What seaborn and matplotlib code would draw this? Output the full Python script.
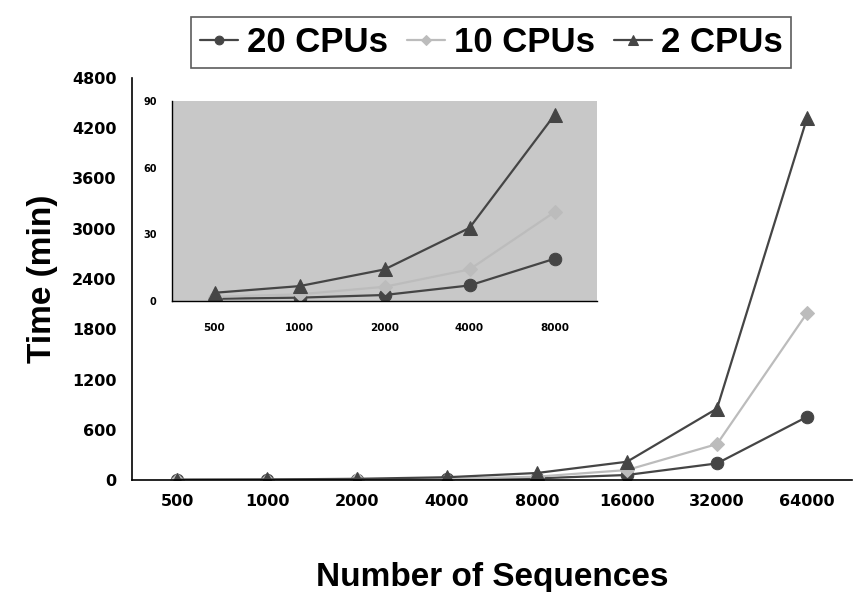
import pandas as pd
import matplotlib.pyplot as plt
import seaborn as sb
from matplotlib.ticker import MultipleLocator

# Dane
sequences = ['500', '1000', '2000', '4000', '8000', '16000', '32000', '64000']
series_names = ['20 CPUs', '10 CPUs', '2 CPUs']
cpu20 = [1, 1.5, 2.7, 7, 19, 60, 198, 754]
cpu10 = [1.9, 3, 6.4, 14.2, 40, 119, 429, 1992]
cpu2 = [3.7, 6.7, 14.2, 32.9, 83.7, 218, 853, 4321]

colors = {'20 CPUs': '#454545', '10 CPUs': '#bcbcbc', '2 CPUs': '#454545'}
markers = {'20 CPUs': 'o', '10 CPUs': 'D', '2 CPUs': '^'}
sizes = {'20 CPUs': 9, '10 CPUs': 7, '2 CPUs': 10}


def build_frame(n):
    rows = []
    for name, vals in zip(series_names, [cpu20, cpu10, cpu2]):
        for i in range(n):
            rows.append({'pos': i, 'time': vals[i], 'cpus': name})
    return pd.DataFrame(rows)


def draw_lines(ax, data):
    for name in series_names:
        sub = data[data['cpus'] == name]
        sb.lineplot(data=sub, x='pos', y='time', ax=ax, color=colors[name],
                    marker=markers[name], markersize=sizes[name],
                    markeredgecolor=colors[name], linewidth=1.6, label=name,
                    legend=False)


sb.set_style('white', {'text.color': 'black', 'axes.labelcolor': 'black',
                       'xtick.color': 'black', 'ytick.color': 'black'})
plt.rcParams['font.family'] = ['Liberation Sans', 'DejaVu Sans']

fig = plt.figure(figsize=(8.57, 5.92), dpi=100)

# Wykres główny
ax = fig.add_axes([132 / 857, 1 - 480 / 592, 720 / 857, 402 / 592])
draw_lines(ax, build_frame(len(sequences)))
ax.set_xlim(-0.5, len(sequences) - 0.5)
ax.set_ylim(0, 4800)
ax.set_xticks(range(len(sequences)))
ax.set_xticklabels(sequences)
ax.set_xticks([i + 0.5 for i in range(-1, len(sequences))], minor=True)
ax.yaxis.set_major_locator(MultipleLocator(600))
ax.yaxis.set_minor_locator(MultipleLocator(300))
ax.tick_params(axis='x', which='major', length=0, pad=10, labelsize=11.5)
ax.tick_params(axis='x', which='minor', length=6, width=1, direction='out')
ax.tick_params(axis='y', which='major', length=6, width=1, direction='out', labelsize=11.5, pad=5)
ax.tick_params(axis='y', which='minor', length=4, width=1, direction='out')
for lab in ax.get_xticklabels() + ax.get_yticklabels():
    lab.set_fontweight('bold')
    lab.set_family('DejaVu Sans')
sb.despine(ax=ax)
for sp in ['left', 'bottom']:
    ax.spines[sp].set_color('black')
    ax.spines[sp].set_linewidth(1.2)
ax.set_xlabel('Number of Sequences', fontsize=24, fontweight='bold', labelpad=38)
ax.set_ylabel('Time (min)', fontsize=24, fontweight='bold', labelpad=10)

# Wykres wstawiony (pierwsze 5 kategorii)
n_in = 5
ins = fig.add_axes([172 / 857, 1 - 301 / 592, 425 / 857, 200 / 592])
ins.set_facecolor('#c8c8c8')
draw_lines(ins, build_frame(n_in))
ins.set_xlim(-0.5, n_in - 0.5)
ins.set_ylim(0, 90)
ins.set_xticks(range(n_in))
ins.set_xticklabels(sequences[:n_in])
ins.set_xticks([i + 0.5 for i in range(-1, n_in)], minor=True)
ins.yaxis.set_major_locator(MultipleLocator(30))
ins.yaxis.set_minor_locator(MultipleLocator(15))
ins.tick_params(axis='x', which='major', length=0, pad=16, labelsize=7.5)
ins.tick_params(axis='x', which='minor', length=5, width=1, direction='out')
ins.tick_params(axis='y', which='major', length=5, width=1, direction='out', labelsize=7, pad=6)
ins.tick_params(axis='y', which='minor', length=5, width=1, direction='out')
for lab in ins.get_xticklabels() + ins.get_yticklabels():
    lab.set_fontweight('bold')
    lab.set_family('DejaVu Sans')
sb.despine(ax=ins)
for sp in ['left', 'bottom']:
    ins.spines[sp].set_color('black')
    ins.spines[sp].set_linewidth(1)
ins.set_xlabel('')
ins.set_ylabel('')

# Legenda
handles, labels = ax.get_legend_handles_labels()
leg = fig.legend(handles, labels, loc='upper center', bbox_to_anchor=(491 / 857, 1.0),
                 ncol=3, frameon=True, fancybox=False, edgecolor='#333333',
                 prop={'size': 25, 'weight': 'bold'}, handlelength=1.1,
                 handletextpad=0.25, columnspacing=0.55, borderpad=0.25, markerscale=0.7)
leg.get_frame().set_linewidth(1.2)

fig.savefig('out.png', dpi=100)
